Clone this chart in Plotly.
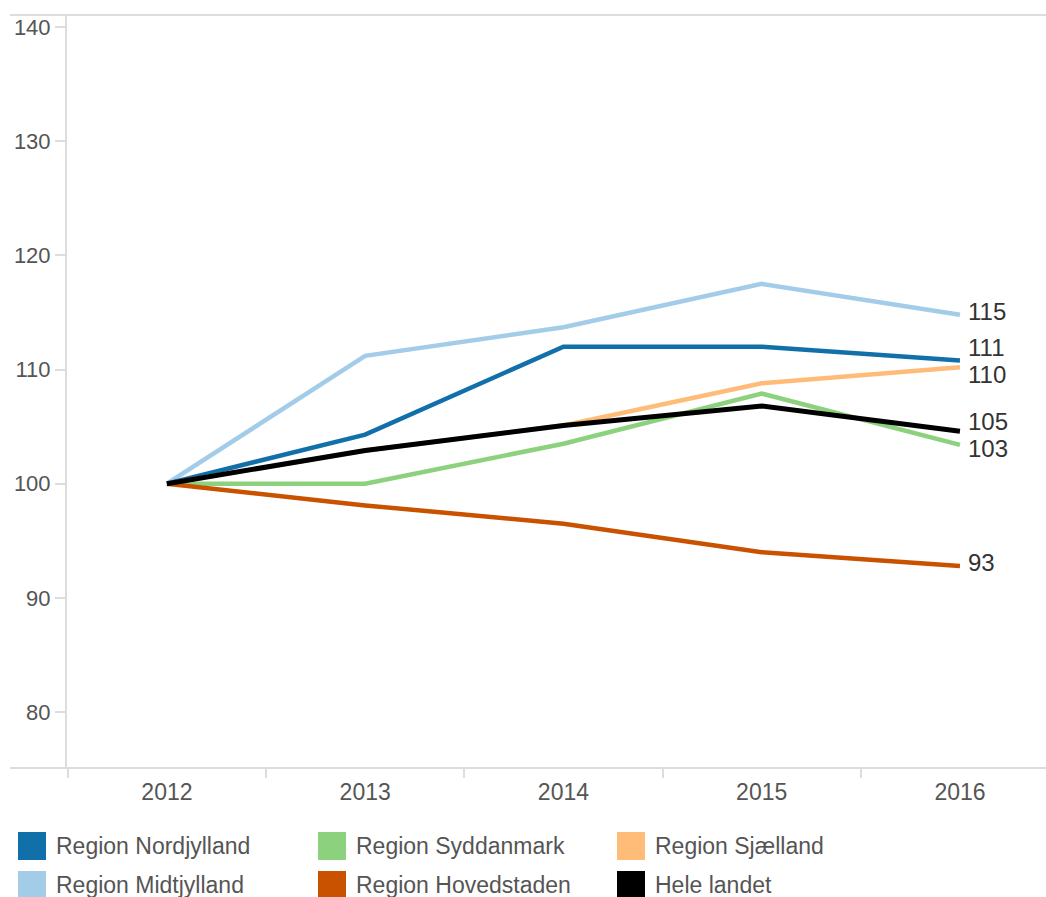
import plotly.graph_objects as go

years = [2012, 2013, 2014, 2015, 2016]
series_names = ["Region Midtjylland", "Region Nordjylland", "Region Syddanmark",
                "Region Sjælland", "Region Hovedstaden", "Hele landet"]
midtjylland = [100, 111.2, 113.7, 117.5, 114.8]
nordjylland = [100, 104.3, 112.0, 112.0, 110.8]
syddanmark = [100, 100.0, 103.5, 107.9, 103.4]
sjaelland = [100, 102.9, 105.1, 108.8, 110.2]
hovedstaden = [100, 98.1, 96.5, 94.0, 92.8]
hele_landet = [100, 102.9, 105.1, 106.8, 104.6]
series_values = [midtjylland, nordjylland, syddanmark, sjaelland, hovedstaden, hele_landet]
colors = ["#a3cce9", "#1170aa", "#8cd17d", "#ffbc79", "#c85200", "#000000"]
widths = [4.5, 4.5, 4.5, 4.5, 4.5, 5]

legend_order = ["Region Nordjylland", "Region Syddanmark", "Region Sjælland",
                "Region Midtjylland", "Region Hovedstaden", "Hele landet"]
y_ticks = [80, 90, 100, 110, 120, 130, 140]

OFF = 0  # page body margin (removed via post_script)
W, H = 1046 - OFF, 897 - OFF
ML, MR, MT, MB = 67 - OFF, 0, 15 - OFF, 129
PW, PH = W - ML - MR, H - MT - MB
YR = [75.1, 141.05]
XR = [2011.496, 2016.434]
FONT = "Arial, Liberation Sans, sans-serif"


def px_x(p):
    # p in screenshot pixels
    return (p - OFF - ML) / PW


def px_y(p):
    return (H - MB - (p - OFF)) / PH


fig = go.Figure()
for name, vals, c, w in zip(series_names, series_values, colors, widths):
    fig.add_trace(go.Scatter(x=years, y=vals, mode="lines", name=name,
                             line=dict(color=c, width=w), showlegend=False,
                             hoverinfo="x+y+name"))

# end labels with simple de-confliction
ppu = PH / (YR[1] - YR[0])
ends = sorted([(v[-1], n) for v, n in zip(series_values, series_names)], reverse=True)
pix = [(YR[1] - v) * ppu for v, _ in ends]
pos = pix[:]
gap = 27
for _ in range(50):
    for i in range(len(pos) - 1):
        d = pos[i + 1] - pos[i]
        if d < gap:
            m = (pos[i] + pos[i + 1]) / 2
            pos[i] = m - gap / 2
            pos[i + 1] = m + gap / 2
for (v, n), p0, p1 in zip(ends, pix, pos):
    fig.add_annotation(x=years[-1], y=v, xref="x", yref="y", text=str(int(v + 0.5)),
                       showarrow=False, xanchor="left", yanchor="middle",
                       xshift=6, yshift=-(p1 - p0) + 3,
                       font=dict(family=FONT, size=24, color="#333333"))

# frame lines (top and bottom) extending left of the axis
for py in [15, 768]:
    fig.add_shape(type="line", xref="paper", yref="paper",
                  x0=px_x(10), x1=px_x(1046), y0=px_y(py), y1=px_y(py),
                  line=dict(color="#dddddd", width=2))

# manual legend with square swatches
col_x = [18, 318, 617]
row_y = [846, 885]
for i, name in enumerate(legend_order):
    r, c = divmod(i, 3)
    color = colors[series_names.index(name)]
    x0 = col_x[c]
    yc = row_y[r]
    fig.add_shape(type="rect", xref="paper", yref="paper",
                  x0=px_x(x0), x1=px_x(x0 + 28), y0=px_y(yc - 14), y1=px_y(yc + 14),
                  fillcolor=color, line=dict(width=0))
    fig.add_annotation(x=px_x(x0 + 36), y=px_y(yc), xref="paper", yref="paper",
                       text=name, showarrow=False, xanchor="left", yanchor="middle",
                       font=dict(family=FONT, size=23, color="#555555"))

fig.update_layout(
    width=W, height=H,
    margin=dict(l=ML, r=MR, t=MT, b=MB),
    paper_bgcolor="white", plot_bgcolor="white",
    showlegend=False,
    font=dict(family=FONT, size=22, color="#555555"),
)
fig.update_xaxes(range=XR, tickvals=years, ticktext=[str(y) for y in years],
                 ticks="", showgrid=False, zeroline=False, showline=False,
                 tickfont=dict(size=23, color="#555555"),
                 ticklabelstandoff=8,
                 minor=dict(ticks="outside", tick0=2011.5, dtick=1, ticklen=9,
                            tickcolor="#dddddd", tickwidth=2, showgrid=False))
fig.update_yaxes(range=YR, tickvals=y_ticks, ticks="outside", ticklen=10,
                 tickcolor="#dddddd", tickwidth=1.5, showgrid=False, zeroline=False,
                 showline=True, linecolor="#dddddd", linewidth=2,
                 tickfont=dict(size=22, color="#555555"))

fig.write_html("out.html",
               config={"displayModeBar": False},
               post_script="document.body.style.margin='0';"
                           "document.body.style.overflow='hidden';")
